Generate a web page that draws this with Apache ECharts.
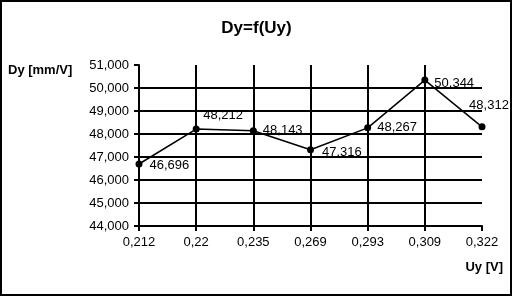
<!DOCTYPE html>
<html><head><meta charset="utf-8">
<script src="https://cdn.jsdelivr.net/npm/echarts@6/dist/echarts.min.js"></script>
<style>html,body{margin:0;padding:0;background:#fff}#c{width:513px;height:298px}</style>
</head><body><div id="c"></div>
<script>
const categories = ['0,212','0,22','0,235','0,269','0,293','0,309','0,322'];
const dyValues = [46.696, 48.212, 48.143, 47.316, 48.267, 50.344, 48.312];
const labelPos = [
  {position:'right', distance:7, offset:[0,1]},
  {position:'top', distance:4, offset:[27,0]},
  {position:'right', distance:6, offset:[0,0]},
  {position:'right', distance:8, offset:[0,3]},
  {position:'right', distance:6, offset:[0,0]},
  {position:'right', distance:6, offset:[0,3]},
  {position:'top', distance:11, offset:[7,0]}
];
const fmt = v => v.toFixed(3).replace('.', ',');
const chart = echarts.init(document.getElementById('c'));
const font = 'Liberation Sans, Arial, sans-serif';
chart.setOption({
  animation:false,
  backgroundColor:'#fff',
  title:{text:'Dy=f(Uy)', left:'center', top:15, textStyle:{fontFamily:font,fontSize:17,fontWeight:'bold',color:'#000'}},
  grid:{left:139, right:31, top:65, bottom:72},
  xAxis:{type:'category', data:categories, boundaryGap:false,
    axisLine:{show:true, lineStyle:{color:'#000', width:2}},
    axisTick:{show:true, length:5, lineStyle:{color:'#000', width:2}},
    axisLabel:{color:'#000', fontFamily:font, fontSize:13, margin:10},
    splitLine:{show:true, showMinLine:false, showMaxLine:false, lineStyle:{color:'#000', width:2}}
  },
  yAxis:{type:'value', min:44, max:51, interval:1,
    axisLine:{show:true, lineStyle:{color:'#000', width:2}},
    axisTick:{show:true, length:5, lineStyle:{color:'#000', width:2}},
    axisLabel:{color:'#000', fontFamily:font, fontSize:13, margin:10, formatter:fmt},
    splitLine:{show:true, showMinLine:false, showMaxLine:false, lineStyle:{color:'#000', width:2}}
  },
  series:[{type:'line', data:dyValues.map((v,i)=>({value:v, label:Object.assign({show:true, formatter:p=>fmt(p.value), color:'#000', fontFamily:font, fontSize:13}, labelPos[i])})),
    symbol:'circle', symbolSize:7, itemStyle:{color:'#000'},
    lineStyle:{color:'#000', width:1.5}, z:5}],
  graphic:[
    {type:'text', left:8, top:64, style:{text:'Dy [mm/V]', font:'bold 13px '+font, fill:'#000'}},
    {type:'text', right:10, top:261, style:{text:'Uy [V]', font:'bold 13px '+font, fill:'#000'}},
    {type:'rect', shape:{x:1, y:1, width:510, height:294}, style:{fill:'none', stroke:'#000', lineWidth:2}}
  ]
});
</script></body></html>
